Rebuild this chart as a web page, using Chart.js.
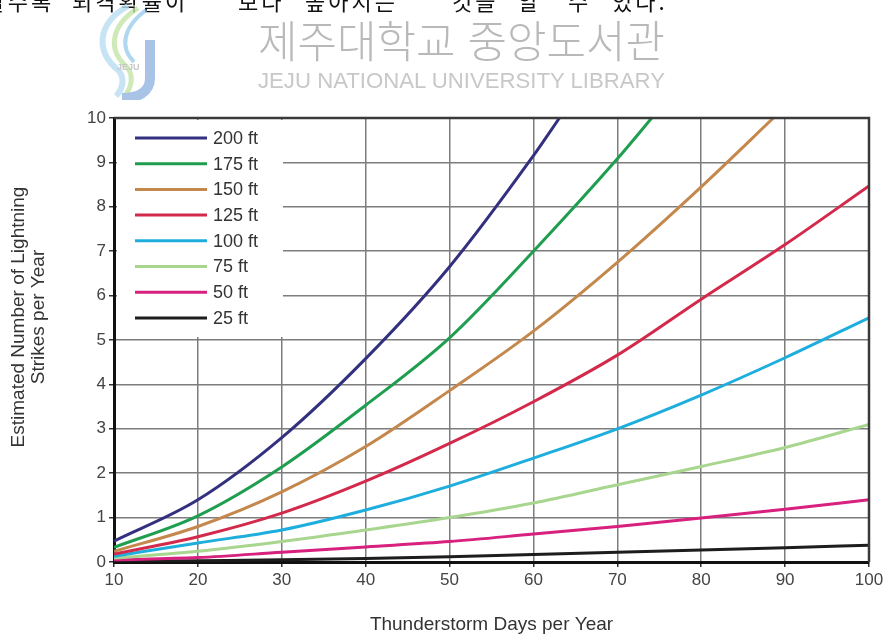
<!DOCTYPE html>
<html lang="ko">
<head>
<meta charset="utf-8">
<title>Thunderstorm Days vs Lightning Strikes</title>
<script src="https://cdn.jsdelivr.net/npm/chart.js@4.4.1/dist/chart.umd.min.js"></script>
<style>
    html, body { margin: 0; padding: 0; background: #fff; }
    #wrap { position: relative; width: 890px; height: 640px; overflow: hidden; }
    #chart { position: absolute; left: 0; top: 0; }
    .word {
        position: absolute; top: -11px; white-space: nowrap; line-height: 22px;
        font-family: "Noto Sans CJK KR", sans-serif; font-size: 22px; color: #111;
        letter-spacing: 3px;
    }
    #mark { position: absolute; left: 0; top: 0; }
</style>
</head>
<body>
<div id="wrap">
    <canvas id="chart" width="890" height="640"></canvas>
    <!-- last line of the paragraph above the figure -->
    <span class="word" style="left:-62px">증가할수록</span>
    <span class="word" style="left:72px">뇌격확률이</span>
    <span class="word" style="left:238px">보다</span>
    <span class="word" style="left:305px">높아지는</span>
    <span class="word" style="left:452px">것을</span>
    <span class="word" style="left:518px">알</span>
    <span class="word" style="left:568px">수</span>
    <span class="word" style="left:612px">있다.</span>
    <svg id="mark" width="890" height="100">
        <!-- library logo -->
        <path d="M128 6 C 96 24, 96 52, 118 70 C 126 78, 122 90, 116 96" fill="none" stroke="#b9ddf2" stroke-width="6" opacity="0.8"/>
        <path d="M138 8 C 110 26, 108 50, 126 66 C 134 74, 132 86, 126 94" fill="none" stroke="#c3e3a8" stroke-width="5" opacity="0.8"/>
        <path d="M146 10 C 122 28, 120 48, 134 62" fill="none" stroke="#8fc6e8" stroke-width="4" opacity="0.7"/>
        <path d="M150 40 L150 78 C 150 92, 138 98, 122 98" fill="none" stroke="#a9c3e6" stroke-width="10"/>
        <text x="117" y="70" font-family="Liberation Sans, Arial" font-size="9" font-weight="bold" fill="#c9c9c9">JEJU</text>
        <!-- library name -->
        <text x="258" y="58" textLength="407" lengthAdjust="spacingAndGlyphs" font-weight="300"
              font-family="Noto Sans CJK KR, sans-serif" font-size="44" fill="#b9b9b9">제주대학교 중앙도서관</text>
        <text x="258" y="88" textLength="407" lengthAdjust="spacingAndGlyphs"
              font-family="Liberation Sans, Arial, sans-serif" font-size="22" fill="#c8c8c8">JEJU NATIONAL UNIVERSITY  LIBRARY</text>
    </svg>
</div>
<script>
// Thunderstorm days per year (x axis)
const days = [10, 20, 30, 40, 50, 60, 70, 80, 90, 100];

// Estimated strikes per year for each structure height
const strikes200 = [0.47, 1.4, 2.8, 4.58, 6.65, 9.15];
const strikes175 = [0.33, 1.04, 2.14, 3.53, 5.05, 7.0, 9.08];
const strikes150 = [0.24, 0.8, 1.58, 2.6, 3.86, 5.2, 6.75, 8.45];
const strikes125 = [0.18, 0.57, 1.1, 1.82, 2.67, 3.61, 4.66, 5.92, 7.15, 8.47];
const strikes100 = [0.13, 0.43, 0.72, 1.17, 1.71, 2.34, 3.0, 3.76, 4.6, 5.5];
const strikes75 = [0.09, 0.24, 0.46, 0.72, 1.0, 1.33, 1.74, 2.15, 2.58, 3.1];
const strikes50 = [0.05, 0.1, 0.22, 0.34, 0.46, 0.63, 0.8, 0.99, 1.19, 1.4];
const strikes25 = [0.01, 0.03, 0.05, 0.08, 0.12, 0.17, 0.22, 0.27, 0.32, 0.38];

// Days where the steep curves run off the top of the chart (10 strikes)
const topEdgeDays = { '200 ft': 63.1, '175 ft': 74.1, '150 ft': 88.6 };

const heights = ['200 ft', '175 ft', '150 ft', '125 ft', '100 ft', '75 ft', '50 ft', '25 ft'];
const seriesValues = [strikes200, strikes175, strikes150, strikes125, strikes100, strikes75, strikes50, strikes25];
const seriesColors = ['#33307f', '#1f9e50', '#c4874c', '#d32a4c', '#1eaede', '#a9d68f', '#d8207f', '#1d1d1d'];

const xTicks = [10, 20, 30, 40, 50, 60, 70, 80, 90, 100];
const yTicks = [0, 1, 2, 3, 4, 5, 6, 7, 8, 9, 10];

const FONT = "Arial, 'Liberation Sans', sans-serif";

function buildPoints(label, values) {
    const pts = values.map((v, i) => ({ x: days[i], y: v }));
    if (topEdgeDays[label]) pts.push({ x: topEdgeDays[label], y: 10 });
    return pts;
}

const datasets = heights.map((h, i) => ({
    label: h,
    data: buildPoints(h, seriesValues[i]),
    borderColor: seriesColors[i],
    backgroundColor: seriesColors[i],
    borderWidth: 3,
    pointRadius: 0,
    cubicInterpolationMode: 'monotone',
    fill: false
}));

// Legend box in the upper left corner of the plot, plus the outer frame
const insideLegend = {
    id: 'insideLegend',
    beforeDatasetsDraw(chart) {
        const { ctx, chartArea } = chart;
        const x0 = chartArea.left, y0 = chartArea.top;
        ctx.save();
        ctx.fillStyle = '#fff';
        ctx.fillRect(x0 + 3, y0 + 2, 166, 217);
        ctx.font = '18px ' + FONT;
        ctx.textBaseline = 'middle';
        chart.data.datasets.forEach((ds, i) => {
            const y = y0 + 20 + i * 25.7;
            ctx.strokeStyle = ds.borderColor;
            ctx.lineWidth = 3;
            ctx.beginPath();
            ctx.moveTo(x0 + 21, y);
            ctx.lineTo(x0 + 93, y);
            ctx.stroke();
            ctx.fillStyle = '#333';
            ctx.fillText(ds.label, x0 + 99, y + 1);
        });
        ctx.restore();
    },
    afterDatasetsDraw(chart) {
        const { ctx, chartArea } = chart;
        ctx.save();
        ctx.strokeStyle = '#3a3a3a';
        ctx.lineWidth = 2.5;
        ctx.beginPath();
        ctx.moveTo(chartArea.left, chartArea.top);
        ctx.lineTo(chartArea.right, chartArea.top);
        ctx.lineTo(chartArea.right, chartArea.bottom);
        ctx.stroke();
        ctx.restore();
    },
    afterDraw(chart) {
        // two-line y axis title
        const { ctx } = chart;
        ctx.save();
        ctx.translate(19, 317);
        ctx.rotate(-Math.PI / 2);
        ctx.font = '19px ' + FONT;
        ctx.fillStyle = '#333';
        ctx.textAlign = 'center';
        ctx.textBaseline = 'middle';
        ctx.fillText('Estimated Number of Lightning', 0, 0);
        ctx.fillText('Strikes per Year', 0, 20);
        ctx.restore();
    }
};

new Chart(document.getElementById('chart').getContext('2d'), {
    type: 'line',
    data: { datasets: datasets },
    plugins: [insideLegend],
    options: {
        responsive: false,
        devicePixelRatio: 1,
        animation: false,
        layout: { padding: { left: 0, right: 21, top: 118, bottom: 0 } },
        plugins: {
            legend: { display: false },
            tooltip: { enabled: false }
        },
        scales: {
            x: {
                type: 'linear',
                min: 10,
                max: 100,
                afterFit(scale) { scale.height = 78; },
                afterBuildTicks(scale) { scale.ticks = xTicks.map(v => ({ value: v })); },
                grid: { color: '#7d7d7d', lineWidth: 1.5, tickLength: 5, tickColor: '#333' },
                border: { color: '#111', width: 3 },
                ticks: { color: '#444', font: { family: FONT, size: 17 }, padding: 3, maxRotation: 0 },
                title: {
                    display: true,
                    text: 'Thunderstorm Days per Year',
                    color: '#333',
                    font: { family: FONT, size: 19 },
                    padding: { top: 20 }
                }
            },
            y: {
                min: 0,
                max: 10,
                afterFit(scale) { scale.width = 114; },
                afterBuildTicks(scale) { scale.ticks = yTicks.map(v => ({ value: v })); },
                grid: { color: '#7d7d7d', lineWidth: 1.5, tickLength: 5, tickColor: '#333' },
                border: { color: '#111', width: 3 },
                ticks: { color: '#444', font: { family: FONT, size: 17 }, padding: 3 }
            }
        }
    }
});
</script>
</body>
</html>
